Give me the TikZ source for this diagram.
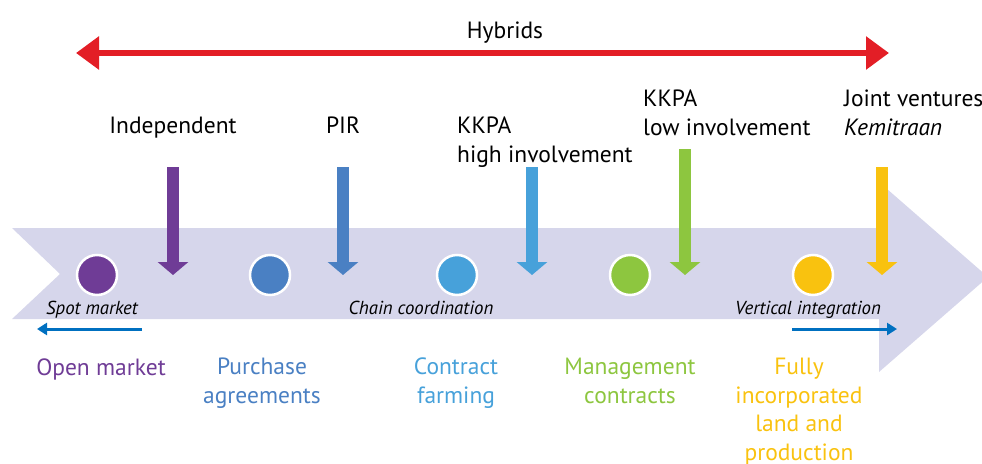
\documentclass[tikz,border=0pt]{standalone}
\usepackage{fontspec}
\setmainfont{PT Sans}
\usepackage{tikz}
\usetikzlibrary{arrows.meta}
\definecolor{chevron}{HTML}{D6D6EB}
\definecolor{hybred}{HTML}{E31E26}
\definecolor{cpurple}{HTML}{6F3C96}
\definecolor{cblue}{HTML}{4A80C3}
\definecolor{clightblue}{HTML}{47A1DA}
\definecolor{cgreen}{HTML}{8DC63F}
\definecolor{cyellow}{HTML}{F9C20F}
\definecolor{dirblue}{HTML}{0070C0}
\tikzset{
  dot/.style={circle,draw=white,line width=2.5pt,minimum size=40pt,inner sep=0pt},
  downarrow/.style={line width=12pt,-{Triangle[width=30pt,length=13pt]}},
  dirarrow/.style={dirblue,line width=3pt,-{Triangle[width=12pt,length=10pt]}},
  toplabel/.style={font=\fontsize{23.5}{29}\selectfont,align=left,inner sep=0pt},
  inlabel/.style={font=\fontsize{18.8}{22}\selectfont\itshape,inner sep=0pt},
  botlabel/.style={font=\fontsize{23.5}{28.5}\selectfont,align=center,inner sep=0pt,anchor=base}
}
\begin{document}
\begin{tikzpicture}[x=1pt,y=-1pt]
\clip (0,0) rectangle (982,463);
\fill[chevron] (12,228) -- (879,228) -- (879,182) -- (988,277) -- (879,372) -- (879,319) -- (12,319) -- (60,274) -- cycle;
\coordinate (hybleft) at (76,53);
\coordinate (hybright) at (889,53);
\draw[hybred,line width=6pt,{Triangle[width=32pt,length=23pt]}-{Triangle[width=32pt,length=23pt]}] (hybleft) -- (hybright);
\node[toplabel,anchor=base] (hybrids) at (505,38) {Hybrids};
\node[toplabel,anchor=base] (indep) at (173,133) {Independent};
\node[toplabel,anchor=base] (pir) at (343,133) {PIR};
\node[toplabel,anchor=base west] (kkpahigh) at (457,162) {KKPA\\high involvement};
\node[toplabel,anchor=base west] (kkpalow) at (643,135) {KKPA\\low involvement};
\node[toplabel,anchor=base west] (joint) at (844,135) {Joint ventures\\\textit{Kemitraan}};
\coordinate (indeptop) at (173,167);
\coordinate (indeptip) at (173,275);
\coordinate (pirtop) at (343,167);
\coordinate (pirtip) at (343,275);
\coordinate (kkpahightop) at (532,167);
\coordinate (kkpahightip) at (532,275);
\coordinate (kkpalowtop) at (685,149);
\coordinate (kkpalowtip) at (685,275);
\coordinate (jointtop) at (882,167);
\coordinate (jointtip) at (882,275);
\draw[downarrow,cpurple] (indeptop) -- (indeptip);
\draw[downarrow,cblue] (pirtop) -- (pirtip);
\draw[downarrow,clightblue] (kkpahightop) -- (kkpahightip);
\draw[downarrow,cgreen] (kkpalowtop) -- (kkpalowtip);
\draw[downarrow,cyellow] (jointtop) -- (jointtip);
\node[dot,fill=cpurple] (open) at (97,275) {};
\node[dot,fill=cblue] (purchase) at (270,275) {};
\node[dot,fill=clightblue] (contract) at (457,275) {};
\node[dot,fill=cgreen] (management) at (630,275) {};
\node[dot,fill=cyellow] (fully) at (813,275) {};
\node[inlabel,anchor=base] (spot) at (92,314) {Spot market};
\node[inlabel,anchor=base] (chain) at (421,314) {Chain coordination};
\node[inlabel,anchor=base] (vertical) at (808,314) {Vertical integration};
\coordinate (spotstart) at (142,329);
\coordinate (spotend) at (37,329);
\coordinate (vertstart) at (792,329);
\coordinate (vertend) at (897,329);
\draw[dirarrow] (spotstart) -- (spotend);
\draw[dirarrow] (vertstart) -- (vertend);
\node[botlabel,text=cpurple] (openlabel) at (101,375) {Open market};
\node[botlabel,text=cblue] (purchaselabel) at (262,403) {Purchase\\agreements};
\node[botlabel,text=clightblue] (contractlabel) at (456,403) {Contract\\farming};
\node[botlabel,text=cgreen] (managementlabel) at (630,403) {Management\\contracts};
\node[botlabel,text=cyellow] (fullylabel) at (799,460) {Fully\\incorporated\\land and\\production};
\end{tikzpicture}
\end{document}
